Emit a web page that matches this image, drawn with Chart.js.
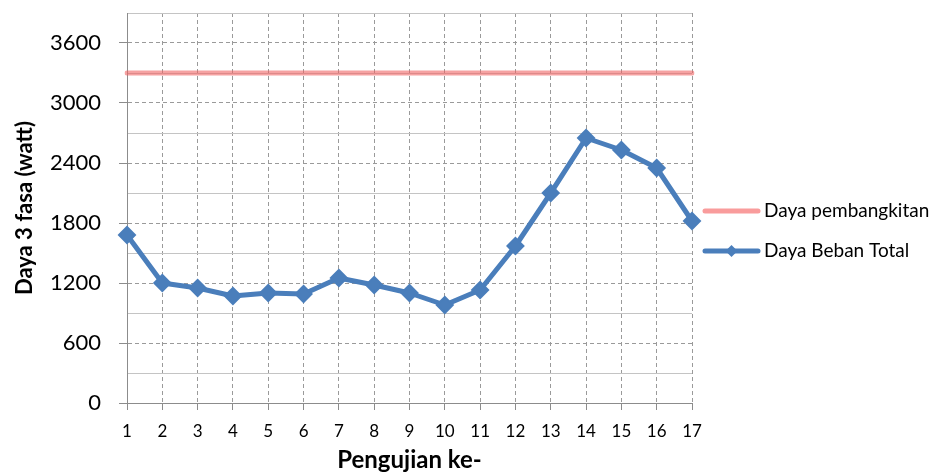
<!DOCTYPE html>
<html>
<head>
<meta charset="utf-8">
<script src="https://cdn.jsdelivr.net/npm/chart.js@4/dist/chart.umd.min.js"></script>
<style>
  html, body { margin: 0; padding: 0; background: #ffffff; }
  #wrap { width: 941px; height: 473px; }
</style>
</head>
<body>
<div id="wrap"><canvas id="chart" width="941" height="473"></canvas></div>
<script>
// Test number (Pengujian ke-)
const pengujian = ['1', '2', '3', '4', '5', '6', '7', '8', '9', '10', '11', '12', '13', '14', '15', '16', '17'];
// Generated power (constant) and total load power, in watt
const dayaPembangkitan = [3300, 3300, 3300, 3300, 3300, 3300, 3300, 3300, 3300, 3300, 3300, 3300, 3300, 3300, 3300, 3300, 3300];
const dayaBebanTotal = [1680, 1200, 1150, 1070, 1100, 1090, 1250, 1180, 1100, 980, 1130, 1570, 2100, 2650, 2530, 2350, 1820];
// Y axis range and grid spacing
const yMin = 0;
const yMax = 3900;
const yMinorStep = 300;
const yLabelStep = 600;

const FONT = 'Lato, "Open Sans", sans-serif';
const isMajor = v => v % yLabelStep === 0;

// Legend drawn at the right of the plot
const sideLegend = {
  id: 'sideLegend',
  afterDraw(chart) {
    const ctx = chart.ctx;
    const rows = [
      { ds: chart.data.datasets[0], y: 211 },
      { ds: chart.data.datasets[1], y: 251 }
    ];
    ctx.save();
    rows.forEach(r => {
      ctx.strokeStyle = r.ds.legendColor || r.ds.borderColor;
      ctx.lineWidth = 5;
      ctx.lineCap = 'round';
      ctx.beginPath();
      ctx.moveTo(705, r.y);
      ctx.lineTo(758, r.y);
      ctx.stroke();
      if (r.ds.pointRadius) {
        ctx.fillStyle = r.ds.pointBackgroundColor;
        const s = 6;
        ctx.beginPath();
        ctx.moveTo(731.5 - s, r.y);
        ctx.lineTo(731.5, r.y - s);
        ctx.lineTo(731.5 + s, r.y);
        ctx.lineTo(731.5, r.y + s);
        ctx.closePath();
        ctx.fill();
      }
      ctx.fillStyle = '#000000';
      ctx.font = '19px ' + FONT;
      ctx.textBaseline = 'middle';
      ctx.textAlign = 'left';
      ctx.fillText(r.ds.label, 764, r.y);
    });
    ctx.restore();
  }
};

new Chart(document.getElementById('chart'), {
  type: 'line',
  data: {
    labels: pengujian,
    datasets: [
      {
        label: 'Daya pembangkitan',
        data: dayaPembangkitan,
        borderColor: 'rgba(240, 100, 100, 0.6)',
        legendColor: '#f99c9c',
        borderWidth: 5,
        borderCapStyle: 'round',
        pointRadius: 0,
        fill: false
      },
      {
        label: 'Daya Beban Total',
        data: dayaBebanTotal,
        borderColor: '#4a7ebb',
        borderWidth: 5,
        borderJoinStyle: 'round',
        tension: 0,
        pointStyle: 'rectRot',
        pointRadius: 8,
        pointBackgroundColor: '#4a7ebb',
        pointBorderColor: '#4a7ebb',
        pointBorderWidth: 2,
        fill: false
      }
    ]
  },
  options: {
    responsive: false,
    animation: false,
    devicePixelRatio: 1,
    layout: { padding: { left: 0, right: 249, top: 13, bottom: 0 } },
    plugins: {
      legend: { display: false },
      tooltip: { enabled: false }
    },
    scales: {
      x: {
        type: 'category',
        offset: false,
        grid: {
          color: '#9a9a9a',
          lineWidth: 1,
          tickLength: 7,
          tickColor: '#8c8c8c',
          offset: false
        },
        border: { display: true, color: '#8c8c8c', width: 1, dash: [4, 3] },
        ticks: {
          color: '#000000',
          font: { family: FONT, size: 17 },
          padding: 11,
          maxRotation: 0,
          autoSkip: false
        },
        title: {
          display: true,
          text: 'Pengujian ke-',
          color: '#000000',
          font: { family: FONT, size: 24, weight: 'bold', lineHeight: 1 },
          padding: { top: 0, bottom: 1 }
        },
        afterFit(scale) { scale.height = 70; }
      },
      y: {
        min: yMin,
        max: yMax,
        grid: {
          color: ctx => (ctx.tick && isMajor(ctx.tick.value)) ? '#9a9a9a' : '#c4c4c4',
          lineWidth: 1,
          tickLength: 8,
          tickColor: ctx => (ctx.tick && isMajor(ctx.tick.value)) ? '#8c8c8c' : 'rgba(0,0,0,0)'
        },
        border: {
          display: true,
          color: '#8c8c8c',
          width: 1,
          dash: ctx => (ctx.tick && isMajor(ctx.tick.value)) ? [4, 3] : []
        },
        ticks: {
          stepSize: yMinorStep,
          color: '#000000',
          font: { family: FONT, size: 22 },
          padding: 18,
          callback: v => isMajor(v) ? String(v) : ''
        },
        title: {
          display: true,
          text: 'Daya 3 fasa (watt)',
          color: '#000000',
          font: { family: FONT, size: 22, weight: 'bold', lineHeight: 1 },
          padding: { top: 14, bottom: 0 }
        },
        afterFit(scale) {
          scale.width = 127;
          scale.paddingTop = 0;
          scale.paddingBottom = 0;
        }
      }
    }
  },
  plugins: [sideLegend]
});
</script>
</body>
</html>
